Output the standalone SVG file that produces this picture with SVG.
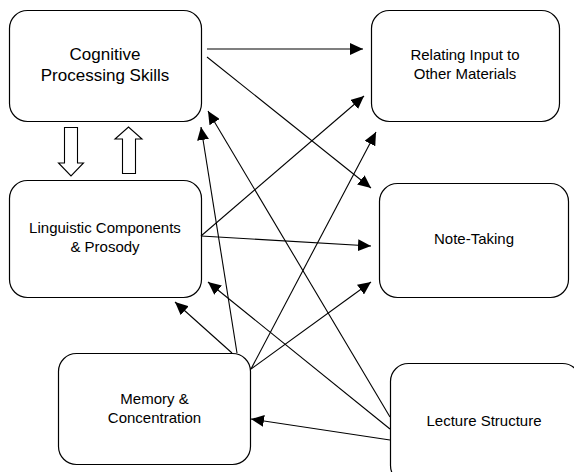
<svg xmlns="http://www.w3.org/2000/svg" width="574" height="472" viewBox="0 0 574 472">
<style>
.box{fill:#fff;stroke:#000;stroke-width:1.2}
.t{font-family:"Liberation Sans",Arial,sans-serif;font-size:15px;fill:#000;text-anchor:middle}
.big{font-size:17px}
.c line{stroke:#000;stroke-width:1.1}
.blk{fill:#fff;stroke:#000;stroke-width:1.1}
</style>
<defs>
<marker id="ah" markerUnits="userSpaceOnUse" markerWidth="14" markerHeight="12" refX="13" refY="6" orient="auto">
<path d="M0,0 L13,6 L0,12 z" fill="#000"/>
</marker>
</defs>
<g id="cognitive">
<rect class="box" x="9.5" y="10.5" width="192" height="111" rx="18"/>
<text class="t big" x="105" y="60">Cognitive</text>
<text class="t big" x="105" y="81">Processing Skills</text>
</g>
<g id="relating">
<rect class="box" x="371.5" y="10.5" width="188" height="111" rx="18"/>
<text class="t" x="465" y="60">Relating Input to</text>
<text class="t" x="465" y="79">Other Materials</text>
</g>
<g id="linguistic">
<rect class="box" x="9.5" y="180.5" width="192" height="117" rx="18"/>
<text class="t" x="105" y="233">Linguistic Components</text>
<text class="t" x="105" y="252">&amp; Prosody</text>
</g>
<g id="notetaking">
<rect class="box" x="379.5" y="183.5" width="189" height="114" rx="18"/>
<text class="t" x="474" y="244">Note-Taking</text>
</g>
<g id="memory">
<rect class="box" x="58.5" y="353.5" width="192" height="111" rx="18"/>
<text class="t" x="154.5" y="404">Memory &amp;</text>
<text class="t" x="154.5" y="423">Concentration</text>
</g>
<g id="lecture">
<rect class="box" x="390.5" y="363.5" width="190" height="120" rx="18"/>
<text class="t" x="484" y="426">Lecture Structure</text>
</g>
<g id="block-arrows">
<polygon class="blk" points="64.5,127.5 77.5,127.5 77.5,163 83.5,163 71,176 58.5,163 64.5,163"/>
<polygon class="blk" points="122.5,173.5 135.5,173.5 135.5,139 142,139 128.5,127 115,139 122.5,139"/>
</g>
<g class="c" id="connectors" marker-end="url(#ah)">
<line x1="207" y1="49" x2="363" y2="49" marker-end="url(#ah)"/>
<line x1="207" y1="57" x2="371" y2="188" marker-end="url(#ah)"/>
<line x1="201" y1="236" x2="364" y2="96" marker-end="url(#ah)"/>
<line x1="201" y1="236" x2="371" y2="246" marker-end="url(#ah)"/>
<line x1="232" y1="353" x2="175" y2="302" marker-end="url(#ah)"/>
<line x1="237" y1="353" x2="201" y2="127" marker-end="url(#ah)"/>
<line x1="251" y1="369" x2="376" y2="132" marker-end="url(#ah)"/>
<line x1="251" y1="369" x2="371" y2="282" marker-end="url(#ah)"/>
<line x1="390" y1="417" x2="208" y2="111" marker-end="url(#ah)"/>
<line x1="390" y1="429" x2="208" y2="282" marker-end="url(#ah)"/>
<line x1="390" y1="440" x2="251" y2="419" marker-end="url(#ah)"/>
</g>
</svg>
